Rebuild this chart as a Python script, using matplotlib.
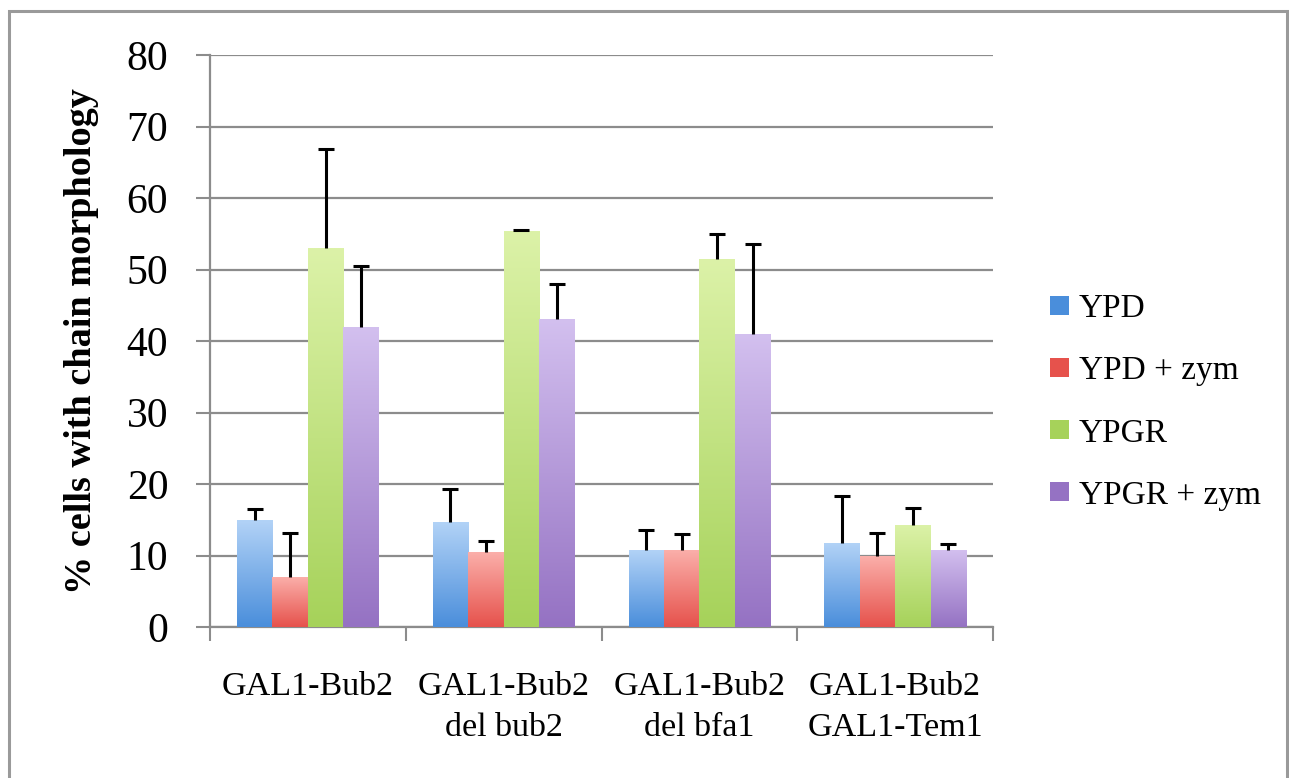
import numpy as np
import matplotlib
matplotlib.use("Agg")
import matplotlib.pyplot as plt
from matplotlib.patches import Rectangle
from matplotlib.colors import to_rgb

plt.rcParams["font.family"] = ["Liberation Serif", "DejaVu Serif"]

# data
categories = ["GAL1-Bub2", "GAL1-Bub2\ndel bub2", "GAL1-Bub2\ndel bfa1", "GAL1-Bub2\nGAL1-Tem1"]
series = ["YPD", "YPD + zym", "YPGR", "YPGR + zym"]
ypd = [15.0, 14.7, 10.8, 11.8]
ypd_zym = [7.0, 10.5, 10.8, 10.0]
ypgr = [53.0, 55.4, 51.5, 14.3]
ypgr_zym = [42.0, 43.1, 41.0, 10.8]
ypd_err = [1.5, 4.6, 2.8, 6.5]
ypd_zym_err = [6.1, 1.5, 2.2, 3.1]
ypgr_err = [13.8, 0.1, 3.5, 2.3]
ypgr_zym_err = [8.5, 4.9, 12.5, 0.8]

values = [ypd, ypd_zym, ypgr, ypgr_zym]
errors = [ypd_err, ypd_zym_err, ypgr_err, ypgr_zym_err]
# (top colour, bottom colour) for the Excel style gradient
shades = [("#b3d3f7", "#4a8edb"),
          ("#fbb0ab", "#e6524c"),
          ("#dcf2a8", "#a6d25a"),
          ("#d3c0ef", "#9572c3")]

fig = plt.figure(figsize=(12.89, 7.78), dpi=100)
ax = fig.add_axes([210 / 1289, 1 - 627 / 778, 783 / 1289, 572 / 778])

# outer frame like the pasted Excel chart
fig.add_artist(Rectangle((9 / 1289, -0.05), 1278 / 1289, 1.05 - 11 / 778,
                         transform=fig.transFigure, fill=False,
                         edgecolor="#9a9a9a", linewidth=2.2))

x = np.arange(len(categories))
width = 0.181
offsets = (np.arange(4) - 1.5) * width

for vals, errs, (top, bot), off in zip(values, errors, shades, offsets):
    bars = ax.bar(x + off, vals, width, color="none", edgecolor="none", zorder=3)
    grad = np.linspace(0, 1, 128)[:, None, None]
    img = (1 - grad) * np.array(to_rgb(bot)) + grad * np.array(to_rgb(top))
    for b in bars:
        im = ax.imshow(img, extent=[b.get_x(), b.get_x() + b.get_width(), 0, b.get_height()],
                       origin="lower", aspect="auto", zorder=3, interpolation="bilinear")
        im.set_clip_path(b)
    eb = ax.errorbar(x + off, vals, yerr=[np.zeros(len(errs)), errs], fmt="none",
                     ecolor="black", elinewidth=2.2, capsize=5.8, capthick=2.2, zorder=4)
    # only the plus side is shown, hide the cap sitting on the bar top
    eb.lines[1][0].set_visible(False)

ax.set_xlim(-0.5, 3.5)
ax.set_ylim(0, 80)
ax.set_yticks(np.arange(0, 81, 10))
ax.tick_params(axis="y", labelsize=30, length=10, width=1.5, color="#8c8c8c", pad=20)
ax.set_xticks(np.arange(-0.5, 4, 1))
ax.set_xticklabels([])
ax.set_xticks(x, minor=True)
ax.set_xticklabels(categories, minor=True, fontsize=24.5, linespacing=1.45)
ax.tick_params(axis="x", which="major", length=10, width=1.5, color="#8c8c8c")
ax.tick_params(axis="x", which="minor", length=0, pad=32)

ax.grid(axis="y", color="#8c8c8c", linewidth=1.6, zorder=0)
ax.set_axisbelow(True)
for side in ["top", "right"]:
    ax.spines[side].set_visible(False)
for side in ["left", "bottom"]:
    ax.spines[side].set_color("#8c8c8c")
    ax.spines[side].set_linewidth(1.6)

ax.set_ylabel("% cells with chain morphology", fontsize=27.5, fontweight="bold", labelpad=20)

handles = [Rectangle((0, 0), 1, 1, facecolor=bot) for top, bot in shades]
ax.legend(handles, series, loc="center left", bbox_to_anchor=(1.035, 0.393),
          frameon=False, fontsize=24, handlelength=0.55, handleheight=0.5,
          handletextpad=0.3, labelspacing=0.95)

fig.savefig("out.png", dpi=100)
